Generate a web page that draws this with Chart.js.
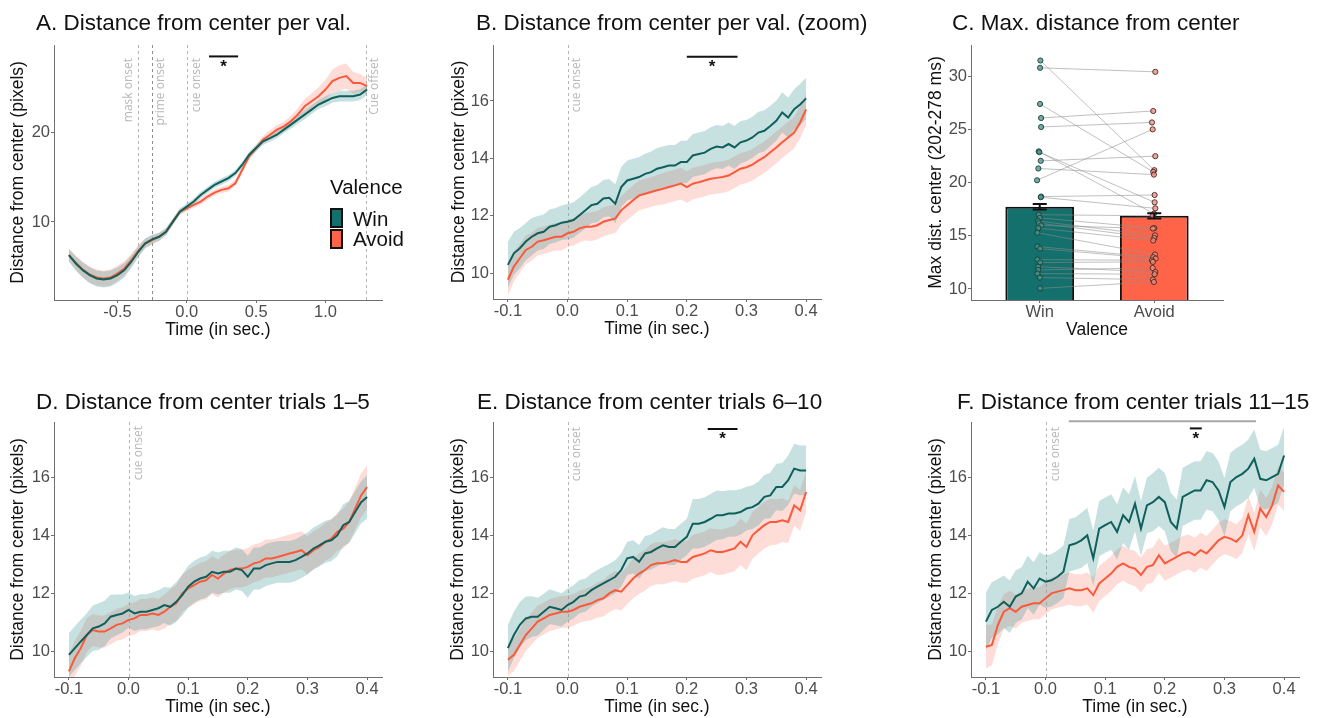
<!DOCTYPE html>
<html>
<head>
<meta charset="utf-8">
<script src="https://cdn.jsdelivr.net/npm/chart.js@4.4.0/dist/chart.umd.min.js"></script>
<style>
  body { margin: 0; background: #fff; width: 1326px; height: 718px; position: relative; overflow: hidden; }
  canvas { position: absolute; }
</style>
</head>
<body>
<canvas id="chartA" width="442" height="359" style="left:0;top:0"></canvas>
<canvas id="chartB" width="442" height="359" style="left:442px;top:0"></canvas>
<canvas id="chartC" width="442" height="359" style="left:884px;top:0"></canvas>
<canvas id="chartD" width="442" height="359" style="left:0;top:359px"></canvas>
<canvas id="chartE" width="442" height="359" style="left:442px;top:359px"></canvas>
<canvas id="chartF" width="442" height="359" style="left:884px;top:359px"></canvas>
<script>
// ---- data ----
const valenceNames = ["Win", "Avoid"];

// panel A: whole trial, every 50 ms
const timeFull = [-0.85,-0.8,-0.75,-0.7,-0.65,-0.6,-0.55,-0.5,-0.45,-0.4,-0.35,-0.3,-0.25,-0.2,-0.15,-0.1,-0.05,0,0.05,0.1,0.15,0.2,0.25,0.3,0.35,0.4,0.45,0.5,0.55,0.6,0.65,0.7,0.75,0.8,0.85,0.9,0.95,1.0,1.05,1.1,1.15,1.2,1.25,1.3];
const winMeanA = [6.32,5.39,4.65,4.09,3.72,3.61,3.72,4.09,4.65,5.58,6.69,7.62,8.07,8.36,8.92,10.04,11.15,11.71,12.27,13.01,13.57,14.13,14.5,14.87,15.43,16.36,17.47,18.22,18.96,19.33,19.7,20.26,20.82,21.38,21.93,22.49,23.05,23.42,23.79,23.98,23.98,23.98,24.16,24.72];
const winCiA = [0.7,0.8,0.85,0.9,0.9,0.9,0.9,0.85,0.8,0.7,0.6,0.55,0.5,0.45,0.4,0.35,0.35,0.35,0.35,0.35,0.35,0.35,0.35,0.35,0.35,0.35,0.35,0.35,0.4,0.4,0.4,0.4,0.45,0.45,0.5,0.5,0.5,0.55,0.55,0.6,0.6,0.6,0.6,0.6];
const avoidMeanA = [6.32,5.46,4.72,4.16,3.83,3.72,3.83,4.28,4.83,5.76,6.8,7.62,8.0,8.36,8.92,10.04,11.15,11.52,11.9,12.27,12.83,13.27,13.57,13.75,14.31,15.8,17.29,18.22,19.14,19.7,20.26,20.63,21.19,21.93,22.86,23.42,23.98,24.72,25.65,26.02,26.21,25.46,25.46,25.09];
const avoidCiA = [0.7,0.8,0.85,0.9,0.9,0.9,0.9,0.85,0.8,0.7,0.6,0.55,0.5,0.45,0.4,0.35,0.35,0.35,0.35,0.35,0.35,0.35,0.35,0.35,0.35,0.35,0.35,0.4,0.45,0.5,0.5,0.55,0.6,0.7,0.8,0.9,1.0,1.1,1.3,1.4,1.4,1.2,1.0,0.9];
const eventTimes = [-0.355, -0.25, 0, 1.29];
const eventLabels = ["mask onset", "prime onset", "cue onset", "Cue offset"];

// panels B, D, E, F: -100..400 ms, every 10 ms
const timeZoom = [-0.1,-0.09,-0.08,-0.07,-0.06,-0.05,-0.04,-0.03,-0.02,-0.01,0,0.01,0.02,0.03,0.04,0.05,0.06,0.07,0.08,0.09,0.1,0.11,0.12,0.13,0.14,0.15,0.16,0.17,0.18,0.19,0.2,0.21,0.22,0.23,0.24,0.25,0.26,0.27,0.28,0.29,0.3,0.31,0.32,0.33,0.34,0.35,0.36,0.37,0.38,0.39,0.4];

const winMeanB = [10.29,10.69,10.87,11.1,11.27,11.39,11.44,11.62,11.67,11.76,11.79,11.85,12.02,12.19,12.37,12.42,12.6,12.63,12.42,13.0,13.23,13.29,13.35,13.46,13.52,13.64,13.69,13.75,13.75,13.87,13.87,14.1,14.15,14.2,14.33,14.41,14.38,14.5,14.38,14.56,14.62,14.73,14.9,14.96,15.13,15.31,15.6,15.42,15.71,15.88,16.09];
const winCiB = [0.8,0.75,0.7,0.65,0.65,0.6,0.6,0.6,0.6,0.6,0.62,0.62,0.62,0.63,0.63,0.65,0.65,0.65,0.68,0.7,0.7,0.7,0.7,0.7,0.72,0.72,0.72,0.72,0.72,0.74,0.74,0.75,0.75,0.75,0.75,0.75,0.75,0.75,0.75,0.74,0.72,0.72,0.72,0.72,0.7,0.7,0.7,0.7,0.7,0.72,0.72];
const avoidMeanB = [9.77,10.23,10.52,10.81,10.92,11.1,11.15,11.21,11.27,11.27,11.39,11.44,11.56,11.62,11.62,11.67,11.79,11.85,11.9,12.19,12.37,12.54,12.71,12.77,12.83,12.89,12.94,13.0,13.06,13.12,13.0,13.12,13.17,13.23,13.29,13.32,13.35,13.4,13.52,13.64,13.69,13.78,13.92,14.04,14.21,14.38,14.56,14.73,14.9,15.25,15.71];
const avoidCiB = [0.55,0.52,0.5,0.5,0.48,0.48,0.48,0.48,0.48,0.48,0.48,0.48,0.48,0.48,0.5,0.5,0.5,0.5,0.5,0.5,0.52,0.52,0.52,0.52,0.52,0.52,0.55,0.55,0.55,0.55,0.55,0.55,0.55,0.55,0.55,0.55,0.55,0.55,0.55,0.55,0.55,0.55,0.55,0.55,0.55,0.55,0.55,0.55,0.55,0.55,0.55];

const winMeanD = [9.9,10.13,10.36,10.58,10.81,10.87,10.98,11.21,11.27,11.32,11.44,11.32,11.38,11.38,11.44,11.5,11.61,11.55,11.72,11.95,12.24,12.41,12.52,12.58,12.75,12.69,12.75,12.75,12.86,12.81,12.58,12.86,12.86,12.98,13.04,13.09,13.09,13.09,13.15,13.26,13.38,13.55,13.66,13.78,13.83,14.0,14.35,14.46,14.8,15.14,15.32];
const winCiD = [0.75,0.75,0.75,0.75,0.78,0.8,0.78,0.75,0.7,0.65,0.6,0.6,0.6,0.6,0.6,0.62,0.62,0.65,0.68,0.7,0.72,0.72,0.72,0.72,0.72,0.72,0.72,0.72,0.72,0.72,0.72,0.72,0.72,0.72,0.72,0.72,0.72,0.72,0.72,0.72,0.72,0.72,0.72,0.72,0.72,0.72,0.72,0.72,0.72,0.72,0.75];
const avoidMeanD = [9.33,9.79,10.13,10.58,10.75,10.7,10.7,10.81,10.93,10.98,11.1,11.15,11.27,11.27,11.32,11.27,11.38,11.55,11.67,12.01,12.18,12.29,12.41,12.46,12.64,12.52,12.69,12.81,12.86,12.86,12.92,13.04,13.09,13.21,13.21,13.26,13.32,13.38,13.43,13.49,13.32,13.49,13.6,13.78,13.89,14.12,14.23,14.46,14.92,15.37,15.66];
const avoidCiD = [0.6,0.6,0.6,0.58,0.55,0.55,0.55,0.55,0.55,0.55,0.55,0.55,0.55,0.55,0.55,0.55,0.58,0.6,0.62,0.65,0.65,0.65,0.65,0.65,0.65,0.65,0.65,0.65,0.65,0.65,0.65,0.65,0.65,0.65,0.65,0.65,0.65,0.65,0.65,0.65,0.65,0.65,0.65,0.65,0.65,0.65,0.68,0.7,0.72,0.75,0.75];

const winMeanE = [10.13,10.58,10.93,11.15,11.21,11.21,11.38,11.55,11.5,11.44,11.61,11.72,11.9,11.95,12.12,12.24,12.35,12.46,12.58,12.81,13.21,13.26,13.09,13.38,13.43,13.55,13.66,13.6,13.6,13.78,13.95,14.4,14.4,14.46,14.57,14.69,14.69,14.75,14.75,14.8,14.92,14.97,15.09,15.32,15.37,15.66,15.66,15.89,16.29,16.23,16.23];
const winCiE = [0.8,0.8,0.78,0.75,0.7,0.65,0.62,0.6,0.58,0.57,0.57,0.57,0.57,0.57,0.57,0.57,0.57,0.57,0.57,0.57,0.57,0.57,0.58,0.6,0.6,0.62,0.62,0.62,0.62,0.62,0.62,0.85,0.85,0.85,0.85,0.85,0.82,0.8,0.8,0.78,0.75,0.75,0.75,0.75,0.78,0.8,0.82,0.85,0.85,0.85,0.85];
const avoidMeanE = [9.73,9.9,10.24,10.58,10.81,11.04,11.15,11.27,11.32,11.38,11.38,11.44,11.55,11.61,11.67,11.78,11.84,12.01,12.12,12.07,12.29,12.52,12.69,12.81,12.98,13.04,13.04,13.09,13.15,13.09,13.09,13.26,13.32,13.38,13.49,13.43,13.43,13.49,13.55,13.78,13.6,14.0,14.18,14.35,14.46,14.46,14.52,14.46,15.03,14.86,15.49];
const avoidCiE = [0.55,0.55,0.55,0.55,0.55,0.55,0.55,0.55,0.55,0.55,0.55,0.55,0.55,0.55,0.58,0.6,0.62,0.65,0.65,0.65,0.65,0.68,0.7,0.7,0.72,0.72,0.72,0.72,0.72,0.72,0.72,0.75,0.75,0.75,0.75,0.78,0.78,0.78,0.78,0.8,0.8,0.8,0.8,0.8,0.8,0.78,0.75,0.72,0.7,0.7,0.7];

const winMeanF = [11.04,11.44,11.55,11.72,11.55,11.9,12.01,12.41,12.18,12.52,12.41,12.46,12.58,12.75,13.66,13.72,13.83,14.0,13.21,14.23,14.35,14.46,14.12,14.69,14.46,15.09,14.23,15.03,15.14,15.32,15.14,14.46,14.23,15.32,15.43,15.54,15.54,15.89,15.83,15.54,14.97,15.83,16.0,16.11,16.29,16.63,15.94,15.89,16.0,16.11,16.74];
const winCiF = [1.0,0.95,0.95,0.9,0.9,0.9,0.9,0.9,0.9,0.9,0.9,0.9,0.9,0.9,0.9,0.9,0.95,0.95,0.95,0.95,0.95,0.95,0.95,0.95,0.95,0.95,0.95,0.95,1.0,1.0,1.0,1.0,1.0,1.0,1.0,1.0,1.0,1.0,1.0,1.0,1.0,1.0,1.0,1.0,1.0,1.0,1.0,1.0,1.0,1.0,1.0];
const avoidMeanF = [10.18,10.24,10.92,11.38,11.5,11.38,11.55,11.61,11.67,11.67,11.84,12.01,12.07,12.12,12.18,12.12,12.12,12.18,11.95,12.35,12.52,12.69,12.92,13.04,12.92,12.86,12.64,12.92,12.98,13.32,13.04,13.15,13.26,13.38,13.43,13.32,13.49,13.38,13.6,13.83,13.95,13.89,13.78,14.0,14.69,14.12,14.92,14.63,15.03,15.71,15.49];
const avoidCiF = [0.75,0.7,0.65,0.6,0.6,0.58,0.55,0.55,0.55,0.55,0.55,0.55,0.55,0.55,0.55,0.55,0.55,0.55,0.6,0.6,0.6,0.6,0.6,0.6,0.6,0.6,0.6,0.6,0.6,0.6,0.6,0.6,0.6,0.6,0.6,0.6,0.6,0.6,0.6,0.6,0.6,0.6,0.6,0.6,0.65,0.65,0.65,0.65,0.65,0.65,0.65];

// significance windows (sec) and bar heights (pixels)
const sigA = [0.16, 0.37, 28.4];
const sigB = [0.2, 0.285, 17.54];
const sigE = [0.235, 0.285, 17.65];
const sigF = [0.242, 0.262, 17.67];
const clusterF = [0.039, 0.353, 17.92];

// panel C: bar means, error and per-subject maxima (paired)
const barMeans = [17.75, 16.9];
const barErr = [0.25, 0.25];
const winMax = [31.54,30.85,27.44,26.12,25.27,22.97,22.9,22.08,21.36,20.25,18.71,18.65,17.0,16.7,16.4,16.2,15.99,15.74,15.3,14.0,13.8,12.77,12.5,12.1,11.8,11.45,11.07,10.06];
const avoidMax = [21.2,30.47,21.04,26.78,25.7,17.1,18.17,22.52,20.78,25.05,18.86,17.6,16.9,15.74,15.05,14.8,15.7,14.57,13.25,13.0,12.87,12.7,12.55,11.6,11.98,11.39,10.88,10.66];
const winJitter = [0.006,0.003,0.003,0.012,0.012,-0.009,-0.003,0.009,-0.012,-0.023,0.012,0.009,-0.009,0,-0.014,-0.006,0.014,-0.012,-0.02,-0.02,0.003,-0.02,0.003,-0.014,-0.012,-0.02,0,0.003];
const avoidJitter = [0,0.009,-0.009,-0.009,-0.02,-0.003,0.003,0.009,-0.003,-0.014,0.003,0.009,-0.014,0,0.006,0,-0.012,-0.009,0.006,-0.009,0.012,-0.02,-0.012,0.009,-0.014,0.003,-0.012,-0.003];

// axis ticks
const xTicksFull = [-0.5, 0, 0.5, 1.0];
const xTicksZoom = [-0.1, 0, 0.1, 0.2, 0.3, 0.4];
const yTicksA = [10, 20];
const yTicksZoom = [10, 12, 14, 16];
const yTicksC = [10, 15, 20, 25, 30];

// ---- styles ----
const FONT = '"Liberation Sans", Arial, Helvetica, sans-serif';
const WIN_LINE = "#0f5f5b";
const AVOID_LINE = "#fb5a3a";
const WIN_FILL = "#13706c";
const AVOID_FILL = "#ff6449";
const WIN_BAND = "rgba(80,160,160,0.32)";
const AVOID_BAND = "rgba(251,130,112,0.28)";
const AXIS = "#6f6f6f";
const TICK = "#4d4d4d";

// draws titles, event lines, significance bars, legend and error bars
const deco = {
  id: "deco",
  beforeDatasetsDraw(chart, args, o) {
    const { ctx, chartArea: a } = chart;
    const x = chart.scales.x;
    (o.vlines || []).forEach(v => {
      const px = Math.round(x.getPixelForValue(v.at)) + 0.5;
      ctx.save();
      ctx.strokeStyle = v.dark ? "#8c8c8c" : "#b5b5b5";
      ctx.lineWidth = 1;
      ctx.setLineDash([3, 3]);
      ctx.beginPath();
      ctx.moveTo(px, a.top);
      ctx.lineTo(px, a.bottom);
      ctx.stroke();
      ctx.translate(px + v.dx, a.top + o.labelTop);
      ctx.rotate(-Math.PI / 2);
      ctx.font = '12px "Open Sans", sans-serif';
      ctx.fillStyle = "#b8b8b8";
      ctx.textAlign = "right";
      ctx.textBaseline = "middle";
      ctx.fillText(v.label, 0, 0);
      ctx.restore();
    });
  },
  afterDatasetsDraw(chart, args, o) {
    const { ctx } = chart;
    const x = chart.scales.x, y = chart.scales.y;
    (o.sig || []).forEach(s => {
      const x0 = x.getPixelForValue(s.range[0]);
      const x1 = x.getPixelForValue(s.range[1]);
      const py = y.getPixelForValue(s.range[2]);
      ctx.save();
      ctx.strokeStyle = s.color;
      ctx.lineWidth = 2;
      ctx.beginPath();
      ctx.moveTo(x0, py);
      ctx.lineTo(x1, py);
      ctx.stroke();
      if (s.star) {
        ctx.fillStyle = "#111";
        ctx.font = "bold 17px " + FONT;
        ctx.textAlign = "center";
        ctx.textBaseline = "top";
        ctx.fillText("*", (x0 + x1) / 2, py + 2);
      }
      ctx.restore();
    });
    if (o.errorBars) {
      ctx.save();
      ctx.strokeStyle = "#111";
      ctx.lineWidth = 2;
      barMeans.forEach((m, i) => {
        const px = x.getPixelForValue(i + 1);
        const lo = y.getPixelForValue(m - barErr[i]);
        const hi = y.getPixelForValue(m + barErr[i]);
        ctx.beginPath();
        ctx.moveTo(px, lo); ctx.lineTo(px, hi);
        ctx.moveTo(px - 7, lo); ctx.lineTo(px + 7, lo);
        ctx.moveTo(px - 7, hi); ctx.lineTo(px + 7, hi);
        ctx.stroke();
      });
      ctx.restore();
    }
  },
  afterDraw(chart, args, o) {
    const { ctx } = chart;
    ctx.save();
    ctx.fillStyle = "#111";
    ctx.font = "22.5px " + FONT;
    ctx.textAlign = "left";
    ctx.textBaseline = "alphabetic";
    ctx.fillText(o.title, o.titleAt[0], o.titleAt[1]);
    if (o.legend) {
      const [lx, ly] = o.legend;
      ctx.font = "20.5px " + FONT;
      ctx.fillText("Valence", lx, ly);
      [WIN_FILL, AVOID_FILL].forEach((c, i) => {
        ctx.fillStyle = c;
        ctx.fillRect(lx + 1, ly + 15 + i * 21, 11, 18);
        ctx.strokeStyle = "#111";
        ctx.lineWidth = 2;
        ctx.strokeRect(lx + 1, ly + 15 + i * 21, 11, 18);
        ctx.fillStyle = "#111";
        ctx.fillText(valenceNames[i], lx + 23, ly + 32 + i * 20);
      });
    }
    ctx.restore();
  }
};

function pts(times, vals, add) {
  return times.map((t, i) => ({ x: t, y: add ? vals[i] + add[i] * add.sign : vals[i] }));
}

function band(times, mean, ci, color) {
  const hi = times.map((t, i) => ({ x: t, y: mean[i] + ci[i] }));
  const lo = times.map((t, i) => ({ x: t, y: mean[i] - ci[i] }));
  return [
    { data: hi, borderWidth: 0, pointRadius: 0, fill: "+1", backgroundColor: color, order: 1 },
    { data: lo, borderWidth: 0, pointRadius: 0, fill: false, order: 1 }
  ];
}

function line(times, mean, color) {
  return { data: times.map((t, i) => ({ x: t, y: mean[i] })), borderColor: color, borderWidth: 2,
           pointRadius: 0, fill: false, tension: 0, order: 0 };
}

function xAxis(range, ticks, fmt, title, height) {
  return {
    type: "linear", min: range[0], max: range[1], offset: false,
    afterBuildTicks: s => { s.ticks = ticks.map(v => ({ value: v })); },
    afterFit: s => { s.height = height; },
    ticks: { callback: fmt, color: TICK, font: { family: FONT, size: 16.5 }, padding: 0, maxRotation: 0, autoSkip: false },
    grid: { display: true, drawOnChartArea: false, drawTicks: true, tickLength: 3, color: AXIS, offset: false },
    border: { display: true, color: AXIS, width: 1 },
    title: { display: true, text: title, color: "#111", font: { family: FONT, size: 17.5 }, padding: { top: 0, bottom: 0.5 } }
  };
}

function yAxis(range, ticks, title, width, titlePad) {
  return {
    type: "linear", min: range[0], max: range[1],
    afterBuildTicks: s => { s.ticks = ticks.map(v => ({ value: v })); },
    afterFit: s => { s.width = width; },
    ticks: { callback: v => String(v), color: TICK, font: { family: FONT, size: 16.5 }, padding: 1 },
    grid: { display: true, drawOnChartArea: false, drawTicks: true, tickLength: 3, color: AXIS },
    border: { display: true, color: AXIS, width: 1 },
    title: { display: true, text: title, color: "#111", font: { family: FONT, size: 17.5 }, padding: { top: titlePad, bottom: 0 } }
  };
}

const baseOptions = {
  responsive: false,
  animation: false,
  events: [],
  elements: { line: { tension: 0 } }
};

function timePanel(p) {
  const datasets = [
    line(p.times, p.win, WIN_LINE),
    line(p.times, p.avoid, AVOID_LINE),
    ...band(p.times, p.win, p.winCi, WIN_BAND),
    ...band(p.times, p.avoid, p.avoidCi, AVOID_BAND)
  ];
  new Chart(document.getElementById(p.canvas), {
    type: "line",
    data: { datasets },
    plugins: [deco],
    options: {
      ...baseOptions,
      layout: { padding: p.pad },
      plugins: { legend: { display: false }, tooltip: { enabled: false }, deco: p.deco },
      scales: {
        x: xAxis(p.xRange, p.xTicks, v => v.toFixed(1), "Time (in sec.)", 41),
        y: yAxis(p.yRange, p.yTicks, "Distance from center (pixels)", p.yWidth, p.yTitlePad)
      }
    }
  });
}

const zoomX = [-0.125, 0.425];
const cueLine = { at: eventTimes[2], label: eventLabels[2], dx: 8 };

timePanel({
  canvas: "chartA", times: timeFull, win: winMeanA, winCi: winCiA, avoid: avoidMeanA, avoidCi: avoidCiA,
  xRange: [-0.9575, 1.4075], xTicks: xTicksFull, yRange: [1.33, 29.67], yTicks: yTicksA,
  yWidth: 54, yTitlePad: 7.5, pad: { left: 0, top: 45, right: 60, bottom: 18 },
  deco: {
    title: "A. Distance from center per val.", titleAt: [36, 30], labelTop: 13,
    vlines: [
      { at: eventTimes[0], label: eventLabels[0], dx: -10 },
      { at: eventTimes[1], label: eventLabels[1], dx: 8, dark: true },
      { at: eventTimes[2], label: eventLabels[2], dx: 9 },
      { at: eventTimes[3], label: eventLabels[3], dx: 8 }
    ],
    sig: [{ range: sigA, color: "#111", star: true }],
    legend: [330, 194]
  }
});

timePanel({
  canvas: "chartB", times: timeZoom, win: winMeanB, winCi: winCiB, avoid: avoidMeanB, avoidCi: avoidCiB,
  xRange: zoomX, xTicks: xTicksZoom, yRange: [9.1, 17.95], yTicks: yTicksZoom,
  yWidth: 51, yTitlePad: 6.5, pad: { left: 0, top: 45, right: 63, bottom: 19 },
  deco: {
    title: "B. Distance from center per val. (zoom)", titleAt: [34, 30], labelTop: 13,
    vlines: [cueLine],
    sig: [{ range: sigB, color: "#111", star: true }]
  }
});

timePanel({
  canvas: "chartD", times: timeZoom, win: winMeanD, winCi: winCiD, avoid: avoidMeanD, avoidCi: avoidCiD,
  xRange: zoomX, xTicks: xTicksZoom, yRange: [9.14, 17.89], yTicks: yTicksZoom,
  yWidth: 54, yTitlePad: 7.5, pad: { left: 0, top: 63, right: 60, bottom: 0 },
  deco: {
    title: "D. Distance from center trials 1\u20135", titleAt: [36, 50], labelTop: 4,
    vlines: [{ ...cueLine, dx: 9 }]
  }
});

timePanel({
  canvas: "chartE", times: timeZoom, win: winMeanE, winCi: winCiE, avoid: avoidMeanE, avoidCi: avoidCiE,
  xRange: zoomX, xTicks: xTicksZoom, yRange: [9.14, 17.89], yTicks: yTicksZoom,
  yWidth: 51, yTitlePad: 5.5, pad: { left: 0, top: 63, right: 63, bottom: 0 },
  deco: {
    title: "E. Distance from center trials 6\u201310", titleAt: [35, 50], labelTop: 5,
    vlines: [cueLine],
    sig: [{ range: sigE, color: "#111", star: true }]
  }
});

timePanel({
  canvas: "chartF", times: timeZoom, win: winMeanF, winCi: winCiF, avoid: avoidMeanF, avoidCi: avoidCiF,
  xRange: zoomX, xTicks: xTicksZoom, yRange: [9.14, 17.89], yTicks: yTicksZoom,
  yWidth: 52, yTitlePad: 6.5, pad: { left: 35, top: 63, right: 27, bottom: 0 },
  deco: {
    title: "F. Distance from center trials 11\u201315", titleAt: [73, 50], labelTop: 5,
    vlines: [{ ...cueLine, dx: 9 }],
    sig: [{ range: clusterF, color: "#a8a8a8" }, { range: sigF, color: "#111", star: true }]
  }
});

// panel C: bars + paired subject points
const pairLines = [];
winMax.forEach((w, i) => {
  pairLines.push({ x: 1 + winJitter[i], y: w }, { x: 2 + avoidJitter[i], y: avoidMax[i] }, { x: 1.5, y: null });
});

new Chart(document.getElementById("chartC"), {
  type: "bar",
  data: {
    datasets: [
      { type: "bar", data: barMeans.map((m, i) => ({ x: i + 1, y: m })), backgroundColor: [WIN_FILL, AVOID_FILL],
        borderColor: "#111", borderWidth: 2, borderSkipped: false, barPercentage: 0.6, categoryPercentage: 1, order: 3 },
      { type: "line", data: pairLines, borderColor: "rgba(140,140,140,0.55)", borderWidth: 1, pointRadius: 0,
        spanGaps: false, fill: false, order: 2 },
      { type: "scatter", data: winMax.map((w, i) => ({ x: 1 + winJitter[i], y: w })), pointRadius: 2.6,
        backgroundColor: "rgba(70,150,140,0.75)", borderColor: "#1f3b39", borderWidth: 0.9, order: 1 },
      { type: "scatter", data: avoidMax.map((a, i) => ({ x: 2 + avoidJitter[i], y: a })), pointRadius: 2.6,
        backgroundColor: "rgba(235,140,125,0.75)", borderColor: "#4a2620", borderWidth: 0.9, order: 1 }
    ]
  },
  plugins: [deco],
  options: {
    ...baseOptions,
    layout: { padding: { left: 35, top: 45, right: 103, bottom: 18 } },
    plugins: {
      legend: { display: false }, tooltip: { enabled: false },
      deco: { title: "C. Max. distance from center", titleAt: [68, 30], errorBars: true }
    },
    scales: {
      x: xAxis([0.4, 2.6], [1, 2], v => valenceNames[v - 1], "Valence", 41),
      y: yAxis([8.96, 33.0], yTicksC, "Max dist. center (202-278 ms)", 52, 6.5)
    }
  }
});
</script>
</body>
</html>
